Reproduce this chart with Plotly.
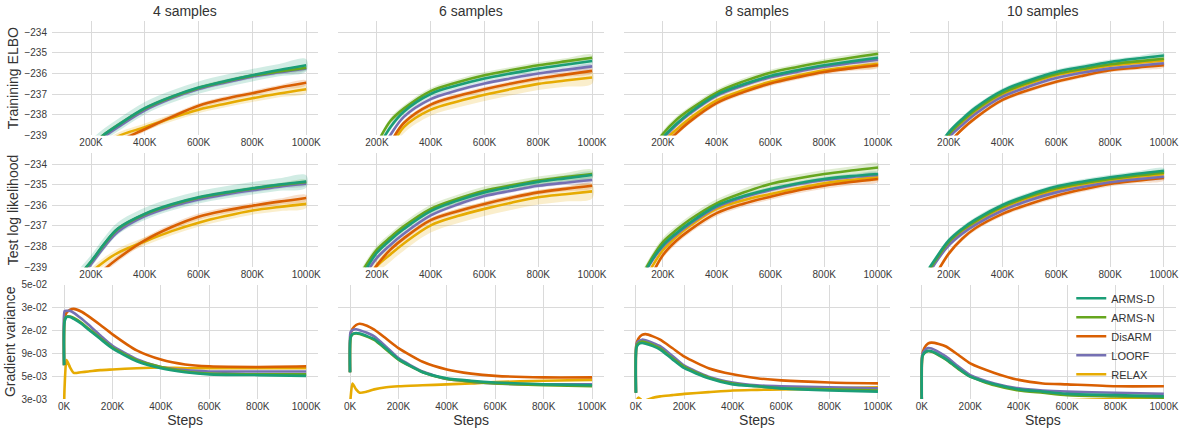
import plotly.graph_objects as go
from plotly.subplots import make_subplots

# ---------------- data ----------------
methods = ["ARMS-D", "ARMS-N", "DisARM", "LOORF", "RELAX"]
sample_titles = ["4 samples", "6 samples", "8 samples", "10 samples"]
row_titles = ["Trainining ELBO", "Test log likelihood", "Gradient variance"]

steps_curve = [100000, 150000, 200000, 250000, 300000, 400000, 500000,
               600000, 700000, 800000, 900000, 1000000]
steps_var = [0, 2000, 10000, 25000, 40000, 70000, 100000, 150000, 200000,
             300000, 400000, 500000, 600000, 800000, 1000000]

top_tickvals = [200000, 400000, 600000, 800000, 1000000]
top_ticktext = ["200K", "400K", "600K", "800K", "1000K"]
bot_tickvals = [0, 200000, 400000, 600000, 800000, 1000000]
bot_ticktext = ["0K", "200K", "400K", "600K", "800K", "1000K"]
ll_tickvals = [-239, -238, -237, -236, -235, -234]
var_tickvals = [0.003, 0.005266, 0.009245, 0.01623, 0.02849, 0.05]
var_ticktext = ["3e-03", "5e-03", "9e-03", "2e-02", "3e-02", "5e-02"]

# Training ELBO
elbo_4 = {
    "ARMS-D": [-240.8, -240.1, -239.5, -238.95, -238.5, -237.68, -237.12, -236.68, -236.36, -236.08, -235.83, -235.6],
    "ARMS-N": [-240.8, -240.1, -239.5, -238.95, -238.5, -237.7, -237.14, -236.7, -236.38, -236.1, -235.9, -235.72],
    "DisARM": [-241.2, -240.6, -240.0, -239.65, -239.3, -238.7, -238.1, -237.56, -237.22, -236.95, -236.68, -236.45],
    "LOORF":  [-240.9, -240.2, -239.6, -239.05, -238.6, -237.78, -237.2, -236.75, -236.43, -236.15, -235.94, -235.75],
    "RELAX":  [-241.0, -240.45, -239.95, -239.5, -239.05, -238.6, -238.15, -237.75, -237.46, -237.2, -236.97, -236.76],
}
elbo_6 = {
    "ARMS-D": [-242.0, -240.8, -239.7, -238.6, -237.85, -236.99, -236.57, -236.24, -235.99, -235.76, -235.57, -235.39],
    "ARMS-N": [-241.8, -240.6, -239.4, -238.3, -237.7, -236.85, -236.42, -236.08, -235.83, -235.6, -235.41, -235.23],
    "DisARM": [-242.6, -241.4, -240.3, -239.35, -238.4, -237.51, -237.09, -236.76, -236.48, -236.24, -236.05, -235.87],
    "LOORF":  [-242.3, -241.1, -240.0, -238.98, -238.1, -237.24, -236.81, -236.48, -236.23, -236.0, -235.82, -235.65],
    "RELAX":  [-242.9, -241.7, -240.6, -239.6, -238.6, -237.75, -237.35, -237.03, -236.75, -236.5, -236.34, -236.19],
}
elbo_8 = {
    "ARMS-D": [-241.2, -240.1, -239.12, -238.45, -237.9, -237.03, -236.52, -236.12, -235.84, -235.6, -235.41, -235.23],
    "ARMS-N": [-241.0, -239.9, -238.93, -238.25, -237.75, -236.92, -236.38, -235.96, -235.68, -235.44, -235.23, -235.04],
    "DisARM": [-241.7, -240.6, -239.55, -238.9, -238.33, -237.43, -236.9, -236.48, -236.18, -235.92, -235.75, -235.6],
    "LOORF":  [-241.3, -240.2, -239.18, -238.5, -237.95, -237.08, -236.58, -236.18, -235.91, -235.67, -235.49, -235.33],
    "RELAX":  [-241.5, -240.4, -239.35, -238.72, -238.18, -237.3, -236.8, -236.4, -236.1, -235.84, -235.67, -235.52],
}
elbo_10 = {
    "ARMS-D": [-240.9, -239.8, -238.85, -238.2, -237.65, -236.83, -236.32, -235.92, -235.67, -235.44, -235.27, -235.12],
    "ARMS-N": [-241.0, -239.9, -238.95, -238.3, -237.75, -236.93, -236.42, -236.02, -235.77, -235.55, -235.41, -235.28],
    "DisARM": [-241.5, -240.4, -239.4, -238.7, -238.15, -237.28, -236.79, -236.4, -236.1, -235.84, -235.71, -235.6],
    "LOORF":  [-241.2, -240.1, -239.1, -238.5, -237.95, -237.12, -236.62, -236.22, -235.95, -235.75, -235.62, -235.5],
    "RELAX":  [-241.1, -240.0, -239.02, -238.37, -237.82, -237.0, -236.48, -236.08, -235.84, -235.62, -235.48, -235.36],
}

# Test log likelihood
test_4 = {
    "ARMS-D": [-240.6, -239.5, -238.72, -237.85, -237.12, -236.41, -235.95, -235.61, -235.37, -235.17, -234.99, -234.84],
    "ARMS-N": [-240.6, -239.52, -238.74, -237.87, -237.14, -236.43, -235.97, -235.63, -235.39, -235.19, -235.02, -234.87],
    "DisARM": [-241.2, -240.4, -239.7, -239.1, -238.58, -237.7, -237.05, -236.55, -236.25, -236.02, -235.82, -235.64],
    "LOORF":  [-240.8, -239.65, -238.85, -238.0, -237.28, -236.52, -236.06, -235.72, -235.47, -235.27, -235.09, -234.95],
    "RELAX":  [-240.6, -239.9, -239.25, -238.72, -238.3, -237.75, -237.25, -236.84, -236.52, -236.25, -236.08, -235.93],
}
test_6 = {
    "ARMS-D": [-240.5, -239.3, -238.3, -237.68, -237.15, -236.28, -235.77, -235.37, -235.1, -234.86, -234.69, -234.53],
    "ARMS-N": [-240.3, -239.1, -238.15, -237.55, -237.02, -236.17, -235.68, -235.29, -235.03, -234.8, -234.63, -234.48],
    "DisARM": [-241.0, -239.9, -238.9, -238.15, -237.6, -236.72, -236.28, -235.93, -235.63, -235.37, -235.2, -235.05],
    "LOORF":  [-240.7, -239.5, -238.55, -237.92, -237.38, -236.49, -235.96, -235.55, -235.29, -235.05, -234.9, -234.77],
    "RELAX":  [-241.0, -239.9, -238.95, -238.38, -237.85, -236.97, -236.52, -236.17, -235.87, -235.61, -235.46, -235.32],
}
test_8 = {
    "ARMS-D": [-240.2, -238.85, -237.94, -237.35, -236.85, -236.02, -235.55, -235.21, -234.94, -234.72, -234.58, -234.48],
    "ARMS-N": [-240.0, -238.75, -237.78, -237.2, -236.7, -235.9, -235.38, -234.96, -234.7, -234.48, -234.31, -234.16],
    "DisARM": [-240.9, -239.6, -238.42, -237.72, -237.2, -236.38, -235.92, -235.58, -235.28, -235.05, -234.87, -234.72],
    "LOORF":  [-240.25, -238.9, -238.0, -237.41, -236.91, -236.08, -235.6, -235.26, -234.98, -234.77, -234.63, -234.53],
    "RELAX":  [-240.5, -239.2, -238.18, -237.52, -237.0, -236.17, -235.75, -235.45, -235.17, -234.93, -234.77, -234.64],
}
test_10 = {
    "ARMS-D": [-239.6, -238.6, -237.7, -237.13, -236.68, -235.98, -235.48, -235.09, -234.84, -234.64, -234.47, -234.32],
    "ARMS-N": [-239.7, -238.68, -237.78, -237.2, -236.76, -236.06, -235.56, -235.17, -234.92, -234.72, -234.55, -234.41],
    "DisARM": [-240.6, -239.4, -238.34, -237.62, -237.1, -236.41, -235.93, -235.53, -235.22, -234.96, -234.8, -234.67],
    "LOORF":  [-239.9, -238.8, -237.94, -237.37, -236.93, -236.25, -235.75, -235.37, -235.1, -234.88, -234.73, -234.61],
    "RELAX":  [-239.75, -238.72, -237.82, -237.26, -236.82, -236.12, -235.63, -235.25, -234.98, -234.78, -234.62, -234.48],
}

# band half-widths (spread across runs), per method
band_elbo_4 = {"ARMS-D": 0.3, "ARMS-N": 0.1, "DisARM": 0.12, "LOORF": 0.1, "RELAX": 0.18}
band_elbo_6 = {"ARMS-D": 0.15, "ARMS-N": 0.15, "DisARM": 0.12, "LOORF": 0.1, "RELAX": 0.3}
band_elbo_8 = {"ARMS-D": 0.1, "ARMS-N": 0.15, "DisARM": 0.12, "LOORF": 0.1, "RELAX": 0.15}
band_elbo_10 = {"ARMS-D": 0.12, "ARMS-N": 0.1, "DisARM": 0.1, "LOORF": 0.1, "RELAX": 0.1}
band_test_4 = {"ARMS-D": 0.3, "ARMS-N": 0.1, "DisARM": 0.15, "LOORF": 0.1, "RELAX": 0.2}
band_test_6 = {"ARMS-D": 0.15, "ARMS-N": 0.2, "DisARM": 0.12, "LOORF": 0.1, "RELAX": 0.35}
band_test_8 = {"ARMS-D": 0.1, "ARMS-N": 0.2, "DisARM": 0.15, "LOORF": 0.1, "RELAX": 0.12}
band_test_10 = {"ARMS-D": 0.12, "ARMS-N": 0.1, "DisARM": 0.12, "LOORF": 0.1, "RELAX": 0.1}

# Gradient variance
gvar_4 = {
    "ARMS-D": [0.0069, 0.020, 0.0225, 0.0225, 0.0215, 0.0192, 0.0166, 0.0131, 0.0104, 0.0076, 0.0064, 0.0058, 0.0055, 0.0054, 0.0053],
    "ARMS-N": [0.0069, 0.021, 0.0228, 0.0228, 0.0220, 0.0197, 0.0170, 0.0134, 0.0106, 0.0078, 0.0066, 0.0059, 0.0056, 0.0055, 0.0055],
    "DisARM": [0.0069, 0.022, 0.0250, 0.0270, 0.0275, 0.0258, 0.0230, 0.0185, 0.0147, 0.0099, 0.0079, 0.0070, 0.0067, 0.0066, 0.0067],
    "LOORF":  [0.0069, 0.026, 0.0262, 0.0262, 0.0250, 0.0218, 0.0187, 0.0143, 0.0111, 0.0080, 0.0066, 0.0061, 0.0059, 0.0059, 0.0059],
    "RELAX":  [0.0025, 0.004, 0.0078, 0.0065, 0.0057, 0.0058, 0.0059, 0.0061, 0.0062, 0.0064, 0.0065, 0.0064, 0.0064, 0.0064, 0.0064],
}
gvar_6 = {
    "ARMS-D": [0.0058, 0.0135, 0.0148, 0.0152, 0.0150, 0.0141, 0.0131, 0.0103, 0.0080, 0.0058, 0.0050, 0.0047, 0.0045, 0.0043, 0.0042],
    "ARMS-N": [0.0058, 0.0135, 0.0147, 0.0150, 0.0148, 0.0139, 0.0128, 0.0101, 0.0079, 0.0058, 0.0049, 0.0046, 0.0044, 0.0042, 0.0041],
    "DisARM": [0.0058, 0.0145, 0.0168, 0.0185, 0.0191, 0.0182, 0.0165, 0.0132, 0.0105, 0.0075, 0.0062, 0.0056, 0.0053, 0.0051, 0.0051],
    "LOORF":  [0.0058, 0.0155, 0.0163, 0.0167, 0.0163, 0.0153, 0.0140, 0.0108, 0.0082, 0.0059, 0.0049, 0.0046, 0.0044, 0.0043, 0.0043],
    "RELAX":  [0.0025, 0.0030, 0.0044, 0.0038, 0.0035, 0.0036, 0.0038, 0.0040, 0.0041, 0.0042, 0.0043, 0.0044, 0.00455, 0.0047, 0.0048],
}
gvar_8 = {
    "ARMS-D": [0.0035, 0.0105, 0.0115, 0.0119, 0.0117, 0.0110, 0.0101, 0.0080, 0.0064, 0.0050, 0.0043, 0.0041, 0.0039, 0.0037, 0.0036],
    "ARMS-N": [0.0035, 0.0110, 0.0118, 0.0123, 0.0121, 0.0113, 0.0104, 0.0082, 0.0066, 0.0051, 0.0044, 0.0041, 0.0039, 0.0038, 0.0037],
    "DisARM": [0.0035, 0.0115, 0.0132, 0.0145, 0.0148, 0.0140, 0.0129, 0.0105, 0.0085, 0.0064, 0.0055, 0.0050, 0.00474, 0.0045, 0.0044],
    "LOORF":  [0.0035, 0.0115, 0.0124, 0.0129, 0.0127, 0.0119, 0.0110, 0.0087, 0.0068, 0.0052, 0.0045, 0.0042, 0.0041, 0.0040, 0.0039],
    "RELAX":  [0.0025, 0.0028, 0.0031, 0.0029, 0.0029, 0.0031, 0.0032, 0.0033, 0.0034, 0.00355, 0.0037, 0.00375, 0.0038, 0.0039, 0.0040],
}
gvar_10 = {
    "ARMS-D": [0.0025, 0.0085, 0.0093, 0.0098, 0.0097, 0.0089, 0.0080, 0.0064, 0.0052, 0.0043, 0.0038, 0.0036, 0.0034, 0.0033, 0.0032],
    "ARMS-N": [0.0025, 0.0085, 0.0092, 0.0097, 0.0096, 0.0088, 0.0079, 0.0063, 0.0052, 0.0042, 0.0037, 0.0035, 0.0033, 0.0032, 0.0031],
    "DisARM": [0.0025, 0.0090, 0.0105, 0.0117, 0.0120, 0.0116, 0.0109, 0.0089, 0.0072, 0.0057, 0.0048, 0.0044, 0.0043, 0.0041, 0.0041],
    "LOORF":  [0.0025, 0.0090, 0.0098, 0.0105, 0.0104, 0.0095, 0.0085, 0.0067, 0.0054, 0.0044, 0.0039, 0.0037, 0.0036, 0.0035, 0.0034],
    "RELAX":  [0.0010, 0.0012, 0.0014, 0.0015, 0.0016, 0.0018, 0.0019, 0.0021, 0.0023, 0.0025, 0.0027, 0.0028, 0.0029, 0.0030, 0.0031],
}

elbo_panels = [elbo_4, elbo_6, elbo_8, elbo_10]
test_panels = [test_4, test_6, test_8, test_10]
gvar_panels = [gvar_4, gvar_6, gvar_8, gvar_10]
band_elbo = [band_elbo_4, band_elbo_6, band_elbo_8, band_elbo_10]
band_test = [band_test_4, band_test_6, band_test_8, band_test_10]

# ---------------- style ----------------
colors = {"ARMS-D": "#1b9e77", "ARMS-N": "#66a61e", "DisARM": "#d95f02",
          "LOORF": "#7570b3", "RELAX": "#e6ab02"}
fills = {"ARMS-D": "rgba(27,158,119,0.2)", "ARMS-N": "rgba(102,166,30,0.2)",
         "DisARM": "rgba(217,95,2,0.2)", "LOORF": "rgba(117,112,179,0.2)",
         "RELAX": "rgba(230,171,2,0.2)"}
draw_order = ["RELAX", "DisARM", "LOORF", "ARMS-N", "ARMS-D"]
FONT = "Liberation Sans, Arial, sans-serif"
GRID = "#dadada"

W, H = 1183, 432
ML, MR, MT, MB = 52, 7, 21, 33

fig = make_subplots(rows=3, cols=4, horizontal_spacing=0.0175, vertical_spacing=0.046,
                    subplot_titles=sample_titles + [""] * 8)

for c in range(4):
    for r, (panel, bands) in enumerate([(elbo_panels[c], band_elbo[c]), (test_panels[c], band_test[c])]):
        for m in draw_order:
            vals = panel[m]
            w = bands[m]
            upper = [v + w for v in vals]
            lower = [v - w for v in vals]
            fig.add_trace(go.Scatter(
                x=steps_curve + steps_curve[::-1], y=upper + lower[::-1],
                fill="toself", fillcolor=fills[m], line=dict(width=0, shape="spline"),
                mode="lines", hoverinfo="skip", showlegend=False), row=r + 1, col=c + 1)
        for m in draw_order:
            fig.add_trace(go.Scatter(
                x=steps_curve, y=panel[m], mode="lines", name=m,
                line=dict(color=colors[m], width=2.6, shape="spline", smoothing=1.0),
                showlegend=False), row=r + 1, col=c + 1)
    for m in draw_order:
        fig.add_trace(go.Scatter(
            x=steps_var, y=gvar_panels[c][m], mode="lines", name=m,
            line=dict(color=colors[m], width=2.6, shape="spline", smoothing=0.6),
            legendrank=methods.index(m) + 1,
            showlegend=(c == 3)), row=3, col=c + 1)

axis_common = dict(showline=False, zeroline=False, gridcolor=GRID, gridwidth=1,
                   ticks="", automargin=False,
                   tickfont=dict(size=10, color="#3a3a3a", family=FONT))

for c in range(4):
    for r in range(1, 3):
        fig.update_xaxes(range=[55000, 1045000], tickvals=top_tickvals, ticktext=top_ticktext,
                         row=r, col=c + 1, **axis_common)
        fig.update_yaxes(range=[-239, -233.45], tickvals=ll_tickvals,
                         showticklabels=(c == 0), row=r, col=c + 1, **axis_common)
    fig.update_xaxes(range=[-50000, 1050000], tickvals=bot_tickvals, ticktext=bot_ticktext,
                     title=dict(text="Steps", font=dict(size=14, color="#333", family=FONT), standoff=2),
                     row=3, col=c + 1, **axis_common)
    fig.update_yaxes(type="log", range=[-2.5229, -1.30103], tickvals=var_tickvals,
                     ticktext=var_ticktext, showticklabels=(c == 0), row=3, col=c + 1, **axis_common)

for r in range(3):
    fig.update_yaxes(title=dict(text=row_titles[r], font=dict(size=14, color="#333", family=FONT),
                                standoff=2), ticklabelstandoff=4, row=r + 1, col=1)

for a in fig.layout.annotations:
    a.font = dict(size=14, color="#333", family=FONT)

fig.update_layout(
    width=W, height=H,
    margin=dict(l=ML, r=MR, t=MT, b=MB),
    paper_bgcolor="white", plot_bgcolor="white",
    font=dict(family=FONT, color="#333"),
    showlegend=True,
    legend=dict(x=0.986, y=0.305, xanchor="right", yanchor="top",
                bgcolor="rgba(0,0,0,0)", font=dict(size=11, color="#333", family=FONT),
                tracegroupgap=0, itemwidth=30),
)

# remove the page's default body margin so the figure sits at the window origin
fig.write_html("out.html", config={"displayModeBar": False},
               post_script="document.body.style.margin='0px';")
